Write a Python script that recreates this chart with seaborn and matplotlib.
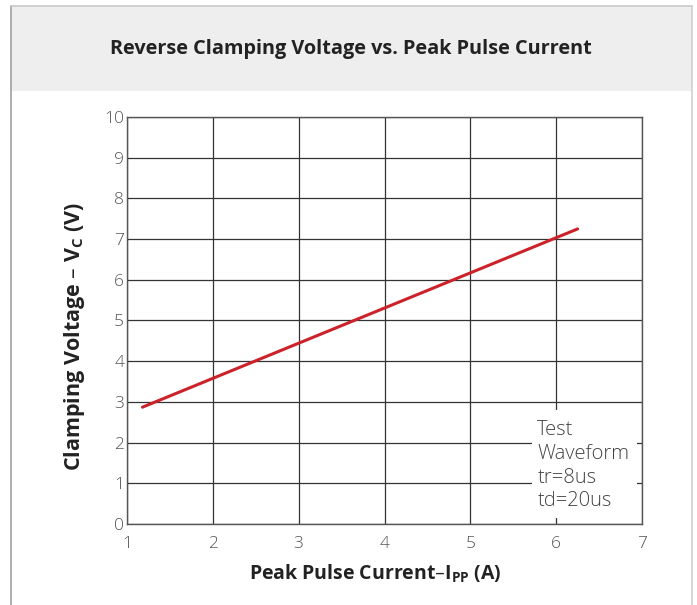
import matplotlib
matplotlib.use("Agg")
import matplotlib.pyplot as plt
import matplotlib.patches as mpatches
import matplotlib.lines as mlines
import pandas as pd
import seaborn as sns

# values
current = [1.18, 6.25]
voltage = [2.87, 7.25]
x_ticks = [1, 2, 3, 4, 5, 6, 7]
y_ticks = [0, 1, 2, 3, 4, 5, 6, 7, 8, 9, 10]
note_lines = ["Test", "Waveform", "tr=8us", "td=20us"]

sns.set_style("white")
plt.rcParams["font.family"] = ["Open Sans", "DejaVu Sans"]
plt.rcParams["mathtext.default"] = "regular"

df = pd.DataFrame({"I": current, "V": voltage})

fig = plt.figure(figsize=(6.97, 6.05), dpi=100)

# header band and frame
fig.patches.append(mpatches.Rectangle((11 / 697, 1 - 91 / 605), 681 / 697, 85 / 605,
                                      transform=fig.transFigure, facecolor="#eeeeee",
                                      edgecolor="none", zorder=0))
fig.lines.append(mlines.Line2D([11 / 697, 11 / 697], [0, 1 - 6 / 605], transform=fig.transFigure,
                               color="#a0a0a0", lw=1.2))
fig.lines.append(mlines.Line2D([11 / 697, 692 / 697], [1 - 6 / 605, 1 - 6 / 605],
                               transform=fig.transFigure, color="#c8c8c8", lw=1.2))
fig.lines.append(mlines.Line2D([692 / 697, 692 / 697], [0, 1 - 6 / 605], transform=fig.transFigure,
                               color="#d0d0d0", lw=1.2))

fig.text(351 / 697, 1 - 49 / 605, "Reverse Clamping Voltage vs. Peak Pulse Current",
         ha="center", va="center", fontsize=14.3, fontweight="bold", color="#222222")

ax = fig.add_axes([127 / 697, 81 / 605, 515 / 697, 407 / 605])
sns.lineplot(data=df, x="I", y="V", ax=ax, color="#cc2229", lw=2.2, zorder=3)

ax.set_xlim(1, 7)
ax.set_ylim(0, 10)
ax.set_xticks(x_ticks)
ax.set_yticks(y_ticks)
ax.grid(True, color="#333333", lw=0.9)
for s in ax.spines.values():
    s.set_color("#555555")
    s.set_linewidth(1.0)
ax.tick_params(axis="both", labelsize=12.5, colors="#555555", length=4, direction="in")
ax.tick_params(axis="x", pad=9)
ax.tick_params(axis="y", pad=2)
for lab in ax.get_xticklabels() + ax.get_yticklabels():
    lab.set_fontweight("light")

ax.set_xlabel("Peak Pulse Current–I$_{PP}$ (A)", fontsize=14, fontweight="bold",
              color="#222222")
ax.set_ylabel("Clamping Voltage – V$_{C}$ (V)", fontsize=15.5, fontweight="bold",
              color="#222222")
ax.xaxis.set_label_coords(0.483, -0.095)
ax.yaxis.set_label_coords(-0.078, 0.46)

ax.add_patch(mpatches.Rectangle((5.72, 0.15), 1.22, 2.65, facecolor="white",
                                edgecolor="none", zorder=2.5))
ax.text(5.78, 2.55, "\n".join(note_lines), fontsize=14.5, color="#444444", fontweight="light",
        va="top", ha="left", linespacing=1.25, zorder=4)

fig.savefig("out.png", dpi=100)
